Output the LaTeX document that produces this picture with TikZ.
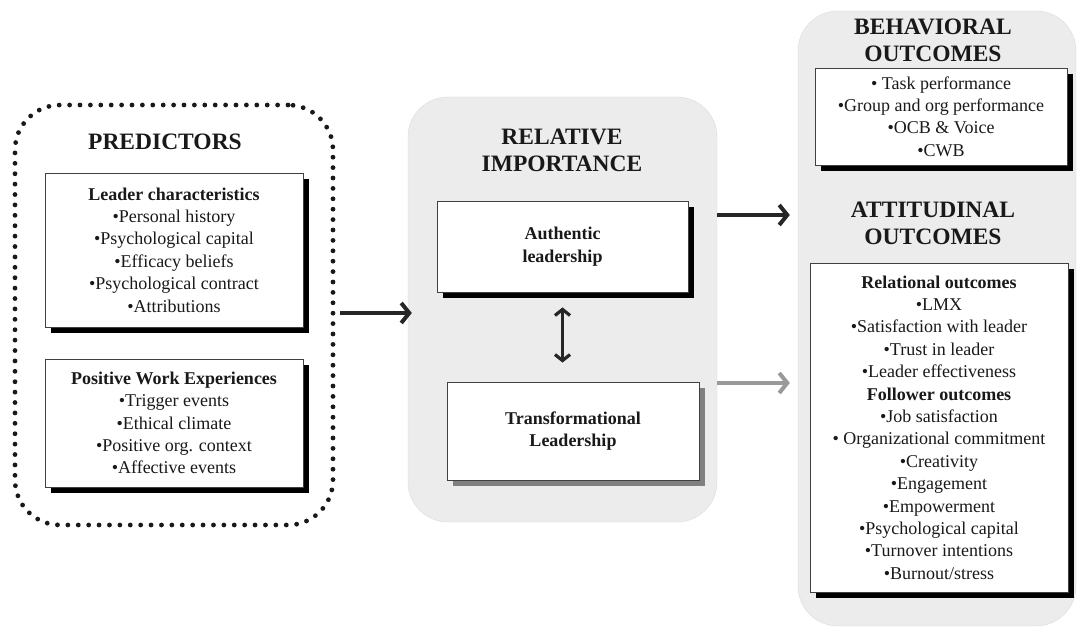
\documentclass[tikz,border=0pt]{standalone}
\usepackage{fontspec}
\setmainfont{Liberation Serif}
\usepackage{tikz}
\usetikzlibrary{arrows.meta,shadows}

\begin{document}
\begin{tikzpicture}[
    x=1pt, y=-1pt,
    >={Straight Barb[length=8pt, width=20pt]},
    panel/.style={draw=gray!28, fill=gray!15, rounded corners=40pt},
    dotpanel/.style={draw=black!90, line width=4.8pt, dash pattern=on 0pt off 10.4pt,
        line cap=round, rounded corners=45pt},
    card/.style={draw=black!75, fill=white, line width=0.8pt, align=center,
        text=black!90, font=\fontsize{18}{22.4}\selectfont,
        drop shadow={shadow xshift=6pt, shadow yshift=-6pt, fill=black, opacity=1}},
    greycard/.style={card, drop shadow={shadow xshift=6pt, shadow yshift=-6pt, fill=black!50, opacity=1}},
    head/.style={align=center, text=black!90, font=\fontsize{23.5}{27}\selectfont\bfseries},
    link/.style={->, line width=4pt, black!85}
]
\useasboundingbox (0,0) rectangle (1077,628);

% the three columns
\node[dotpanel, minimum width=318pt, minimum height=420pt] (pred) at (174,315) {};
\node[panel, minimum width=309pt, minimum height=425pt] (mid) at (562.5,309.5) {};
\node[panel, minimum width=278pt, minimum height=615pt] (outc) at (937,318.5) {};

% headings
\node[head] (predhead) at (165,142) {PREDICTORS};
\node[head] (midhead) at (562,150) {RELATIVE\\IMPORTANCE};
\node[head] (behhead) at (933,40) {BEHAVIORAL\\OUTCOMES};
\node[head] (atthead) at (933,223) {ATTITUDINAL\\OUTCOMES};

% predictors
\node[card, minimum width=258pt, minimum height=154pt] (leader) at (174,250)
    {\textbf{Leader characteristics}\\•Personal history\\•Psychological capital\\•Efficacy beliefs\\•Psychological contract\\•Attributions};
\node[card, minimum width=258pt, minimum height=128pt] (work) at (174,423)
    {\textbf{Positive Work Experiences}\\•Trigger events\\•Ethical climate\\•Positive org. context\\•Affective events};

% leadership styles
\node[card, font=\fontsize{18}{22.4}\selectfont\bfseries, minimum width=251pt, minimum height=91pt] (auth) at (562.5,246.5)
    {Authentic\\leadership};
\node[greycard, font=\fontsize{18}{22.4}\selectfont\bfseries, minimum width=252pt, minimum height=98pt] (trans) at (573,431)
    {Transformational\\Leadership};

% outcomes
\node[card, minimum width=252pt, minimum height=97pt] (beh) at (941,116.5)
    {• Task performance\\•Group and org performance\\•OCB \& Voice\\•CWB};
\node[card, minimum width=258pt, minimum height=329pt] (att) at (939,427.5)
    {\textbf{Relational outcomes}\\•LMX\\•Satisfaction with leader\\•Trust in leader\\•Leader effectiveness\\
     \textbf{Follower outcomes}\\•Job satisfaction\\• Organizational commitment\\•Creativity\\•Engagement\\
     •Empowerment\\•Psychological capital\\•Turnover intentions\\•Burnout/stress};

% arrows
\draw[link] ([xshift=5pt,yshift=2pt]pred.east) -- ([xshift=4pt,yshift=2pt]pred.east -| mid.west);
\draw[link] (mid.east |- 0,215) -- ([xshift=-8pt]outc.west |- 0,215);
\draw[link, black!40] (mid.east |- 0,383) -- ([xshift=-8pt]outc.west |- 0,383);
\draw[<->, line width=3.2pt, black!85, >={Straight Barb[length=6pt, width=15pt]}]
    ([yshift=-15pt]auth.south) -- ([yshift=19pt]auth.south |- trans.north);
\end{tikzpicture}
\end{document}
